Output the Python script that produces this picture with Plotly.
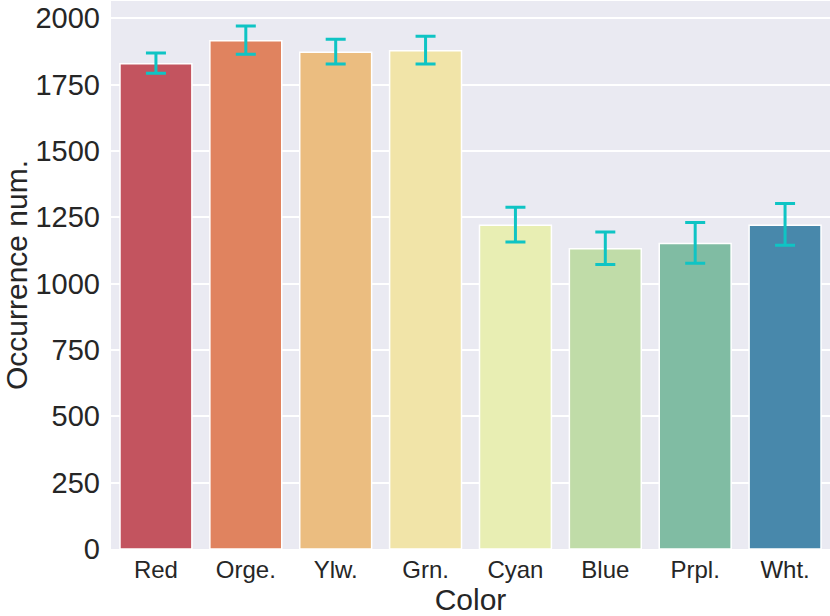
import plotly.graph_objects as go

# bar heights and error-bar ends
categories = ["Red", "Orge.", "Ylw.", "Grn.", "Cyan", "Blue", "Prpl.", "Wht."]
counts = [1829, 1915, 1872, 1878, 1220, 1131, 1151, 1220]
err_high = [1869, 1971, 1921, 1932, 1288, 1195, 1230, 1302]
err_low = [1793, 1864, 1828, 1828, 1157, 1072, 1077, 1145]
y_ticks = [0, 250, 500, 750, 1000, 1250, 1500, 1750, 2000]

# desaturated "Spectral" palette, as seaborn draws it
palette = ["#c3545f", "#e0835f", "#ebbd80", "#f1e4a8",
           "#e8eeb3", "#c0dca8", "#80bca3", "#4888ab"]

FONT = "Liberation Sans, Arial, sans-serif"

fig = go.Figure()
fig.add_trace(go.Bar(
    x=categories, y=counts,
    marker=dict(color=palette, line=dict(color="white", width=1.5)),
    width=0.8,
    error_y=dict(type="data", symmetric=False,
                 array=[h - c for h, c in zip(err_high, counts)],
                 arrayminus=[c - l for c, l in zip(counts, err_low)],
                 color="#0fc4c4", thickness=3, width=10),
    showlegend=False,
))

fig.update_layout(
    width=830, height=616,
    margin=dict(l=111, r=0, t=1, b=67),
    paper_bgcolor="white", plot_bgcolor="#eaeaf2",
    font=dict(family=FONT, color="#262626"),
    bargap=0.2,
    xaxis=dict(title=dict(text="Color", font=dict(size=30), standoff=2),
               tickfont=dict(size=24), range=[-0.5, 7.5], automargin=False,
               ticklabelstandoff=4,
               showgrid=False, ticks="", zeroline=False),
    yaxis=dict(title=dict(text="Occurrence num.", font=dict(size=30), standoff=2),
               tickfont=dict(size=29), tickvals=y_ticks, range=[0, 2065],
               automargin=False, ticklabelstandoff=10,
               gridcolor="white", gridwidth=1.5, ticks="", zeroline=False),
)

# the page's default 8px body margin would push the figure off the window
fig.write_html("out.html", config={"displayModeBar": False},
               post_script="document.body.style.margin = '0';")
